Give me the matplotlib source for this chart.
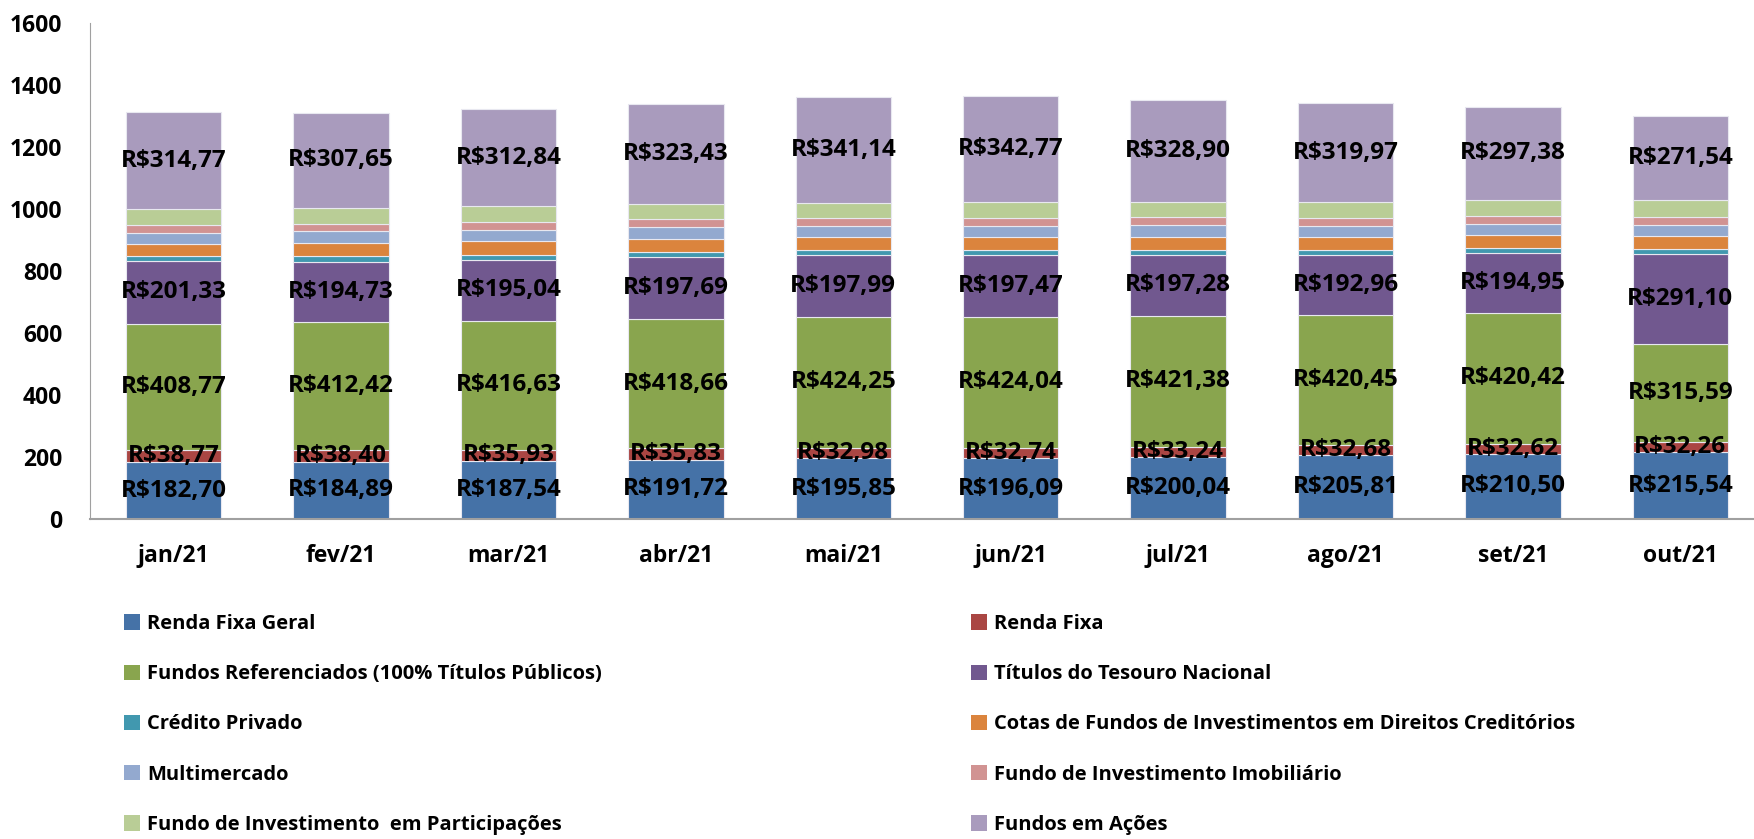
import matplotlib
matplotlib.use('Agg')
import matplotlib.pyplot as plt
from matplotlib.patches import Patch
import numpy as np

# categories and series (R$ bilhões)
months = ['jan/21', 'fev/21', 'mar/21', 'abr/21', 'mai/21', 'jun/21', 'jul/21', 'ago/21', 'set/21', 'out/21']
renda_fixa_geral = [182.70, 184.89, 187.54, 191.72, 195.85, 196.09, 200.04, 205.81, 210.50, 215.54]
renda_fixa = [38.77, 38.40, 35.93, 35.83, 32.98, 32.74, 33.24, 32.68, 32.62, 32.26]
fundos_ref = [408.77, 412.42, 416.63, 418.66, 424.25, 424.04, 421.38, 420.45, 420.42, 315.59]
titulos = [201.33, 194.73, 195.04, 197.69, 197.99, 197.47, 197.28, 192.96, 194.95, 291.10]
credito = [16, 17, 16, 16, 16, 16, 16, 16, 16, 16]
cotas_fidc = [39, 42, 45, 43, 42, 43, 43, 42, 41, 41]
multimercado = [37, 38, 36, 38, 36, 36, 36, 35, 35, 38]
fii = [26, 25, 25, 26, 26, 25, 27, 26, 26, 25]
fip = [49, 51, 51, 48, 49, 52, 49, 51, 54, 54]
acoes = [314.77, 307.65, 312.84, 323.43, 341.14, 342.77, 328.90, 319.97, 297.38, 271.54]

names = ['Renda Fixa Geral', 'Renda Fixa',
         'Fundos Referenciados (100% Títulos Públicos)', 'Títulos do Tesouro Nacional',
         'Crédito Privado', 'Cotas de Fundos de Investimentos em Direitos Creditórios',
         'Multimercado', 'Fundo de Investimento Imobiliário',
         'Fundo de Investimento  em Participações', 'Fundos em Ações']
series = [renda_fixa_geral, renda_fixa, fundos_ref, titulos, credito,
          cotas_fidc, multimercado, fii, fip, acoes]
colors = ['#4572A7', '#AA4643', '#89A54E', '#71588F', '#4198AF',
          '#DB843D', '#93A9CF', '#D19392', '#B9CD96', '#A99BBD']
labeled = [0, 1, 2, 3, 9]

plt.rcParams['font.family'] = ['Open Sans', 'DejaVu Sans']
plt.rcParams['font.weight'] = 'bold'

fig = plt.figure(figsize=(17.54, 8.39), dpi=100)
ax = fig.add_axes([90 / 1754, 1 - 519 / 839, 1 - 90 / 1754, (519 - 23) / 839])

x = np.arange(len(months))
bottom = np.zeros(len(months))
for i, (vals, c) in enumerate(zip(series, colors)):
    vals = np.array(vals, dtype=float)
    ax.bar(x, vals, 0.57, bottom=bottom, color=c, edgecolor='#e8e8f0', linewidth=0.8)
    if i in labeled:
        for xi, b, v in zip(x, bottom, vals):
            txt = 'R$' + f'{v:.2f}'.replace('.', ',')
            ax.text(xi, b + v / 2, txt, ha='center', va='center',
                    fontsize=17.5, fontweight='bold', color='black')
    bottom += vals

ax.set_xlim(-0.5, 9.44)
ax.set_ylim(0, 1600)
ax.set_yticks(range(0, 1601, 200))
ax.set_xticks(x)
ax.set_xticklabels(months)
ax.tick_params(axis='both', length=0, labelsize=16.5)
ax.tick_params(axis='x', pad=18)
ax.tick_params(axis='y', pad=20)
for lab in ax.get_xticklabels() + ax.get_yticklabels():
    lab.set_fontweight('bold')
for s in ['top', 'right']:
    ax.spines[s].set_visible(False)
ax.spines['left'].set_color('#a0a0a0')
ax.spines['bottom'].set_color('#a0a0a0')
ax.spines['bottom'].set_linewidth(1.5)

# legend in two columns, row-major order
handles = [Patch(facecolor=c, edgecolor='none') for c in colors]
for col, x0 in [(0, 124 / 1754), (1, 971 / 1754)]:
    idx = list(range(col, 10, 2))
    fig.legend([handles[k] for k in idx], [names[k] for k in idx],
               loc='upper left', bbox_to_anchor=(x0, 1 - 614 / 839),
               frameon=False, ncol=1, handlelength=0.8,
               handleheight=0.8, handletextpad=0.35, labelspacing=1.5,
               borderaxespad=0, borderpad=0, prop={'weight': 'bold', 'size': 14.5})

fig.savefig('out.png', dpi=100)
